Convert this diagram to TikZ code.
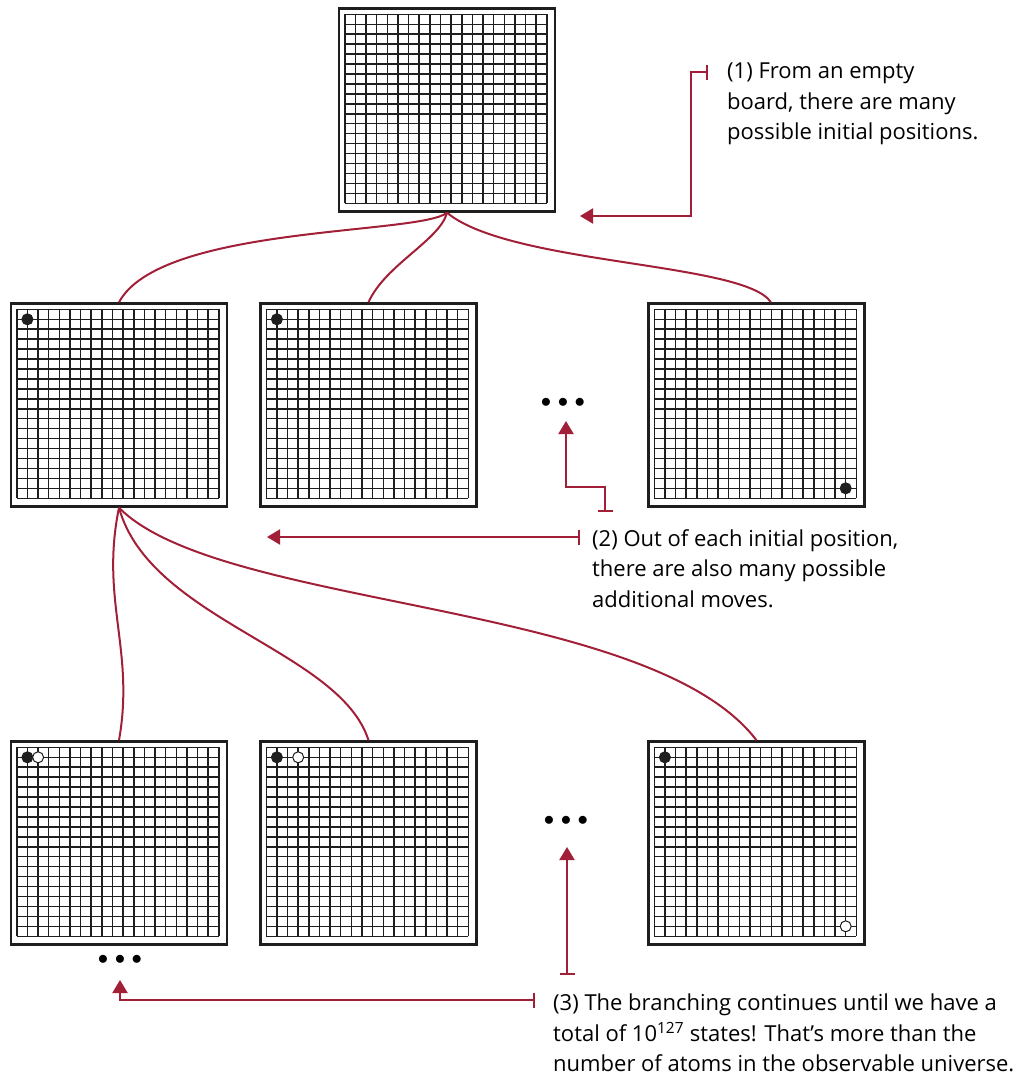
\documentclass[tikz,border=0pt]{standalone}
\usepackage{fontspec}
\setmainfont{Open Sans}
\usetikzlibrary{calc}
\usetikzlibrary{positioning}
\usetikzlibrary{arrows.meta}
\definecolor{notered}{HTML}{A21F38}
\definecolor{ink}{HTML}{1E1E1E}
\def\thickness{2pt}
\tikzset{
board/.style={draw=ink, line width=2.4pt, fill=white, minimum width=216pt, minimum height=203pt, inner sep=0pt},
gridline/.style={ink, line width=1.5pt},
blackstone/.style={circle, draw=ink, fill=ink, line width=1pt, inner sep=0pt, minimum size=11pt},
whitestone/.style={blackstone, fill=white},
branch/.style={notered, line width=\thickness},
callout/.style={notered, line width=\thickness, {Bar[width=15pt]}-{Triangle[width=15pt,length=13pt]}},
note/.style={align=left, anchor=north west, inner sep=0pt, font=\fontsize{22}{30.5}\selectfont},
moredots/.style={inner sep=0pt, font=\fontsize{20}{20}\selectfont},
}
% 19 x 19 cells inside a board node
\newcommand{\boardgrid}[1]{
	\foreach \i in {0,...,19} {
		\draw[gridline] ($(#1.north west)+(7+\i*10.632,7)$) -- ($(#1.north west)+(7+\i*10.632,196)$);
		\draw[gridline] ($(#1.north west)+(7,7+\i*9.947)$) -- ($(#1.north west)+(209,7+\i*9.947)$);
	}
}
\newcommand{\dotrow}{{$\bullet$}\hspace{6.5pt}{$\bullet$}\hspace{6.5pt}{$\bullet$}}

\begin{document}
\begin{tikzpicture}[x=1pt, y=-1pt]
\useasboundingbox (0,0) rectangle (1030,1077);

%
\node[board] (top) at (447,110) {};

\node[board] (m1) at (119,405) {};
\node[board] (m2) at (368.5,405) {};
\node[board] (m3) at (756.5,405) {};

\node[board] (b1) at (119,843) {};
\node[board] (b2) at (368.5,843) {};
\node[board] (b3) at (756.5,843) {};

\foreach \b in {top,m1,m2,m3,b1,b2,b3} {\boardgrid{\b}}

%
\node[blackstone] (m1s1) at ($(m1.north west)+(17.6,17)$) {};
\node[blackstone] (m2s1) at ($(m2.north west)+(17.6,17)$) {};
\node[blackstone] (m3s1) at ($(m3.north west)+(198.4,186)$) {};
\node[blackstone] (b1s1) at ($(b1.north west)+(17.6,17)$) {};
\node[whitestone] (b1s2) at ($(b1.north west)+(28.3,17)$) {};
\node[blackstone] (b2s1) at ($(b2.north west)+(17.6,17)$) {};
\node[whitestone] (b2s2) at ($(b2.north west)+(38.9,17)$) {};
\node[blackstone] (b3s1) at ($(b3.north west)+(17.6,17)$) {};
\node[whitestone] (b3s2) at ($(b3.north west)+(198.4,186)$) {};

%
\node[moredots] (dotsm) at (563,403) {\dotrow};
\node[moredots] (dotsb) at (566,821) {\dotrow};
\node[moredots] (dotsl) at (120,960) {\dotrow};

%
\draw[branch] (top.south) .. controls (420,235) and (160,225) .. (m1.north);
\draw[branch] (top.south) .. controls (440,240) and (385,265) .. (m2.north);
\draw[branch] (top.south) .. controls (510,265) and (745,262) .. (m3.82);

\draw[branch] (m1.south) .. controls (100,600) and (135,650) .. (b1.north);
\draw[branch] (m1.south) .. controls (150,620) and (340,650) .. (b2.north);
\draw[branch] (m1.south) .. controls (220,610) and (650,600) .. (b3.north);

%
\node[note] (note1) at (727,63) {(1) From an empty\\board, there are many\\possible initial positions.};
\node[note] (note2) at (592,529) {(2) Out of each initial position,\\there are also many possible\\additional moves.};
\node[note] (note3) at (553,994) {(3) The branching continues until we have a\\total of 10\textsuperscript{127} states! That’s more than the\\number of atoms in the observable universe.};

\coordinate (tip1) at (580,216);
\coordinate (tip2) at (267,537);
\coordinate (tip2b) at (566,421);
\coordinate (tip3) at (567,847);
\coordinate (tip3b) at (120,980);

%
\draw[callout] ($(note1.north west)+(-19,9)$) -- ++(-17,0) |- (tip1);
\draw[callout] ($(note2.north west)+(-12,8)$) -- (tip2);
\draw[callout] ($(note2.north west)+(13,-17)$) -- ++(0,-25) -| (tip2b);
\draw[callout] ($(note3.north west)+(14,-19)$) -- (tip3);
\draw[callout] ($(note3.north west)+(-18,6)$) -| (tip3b);
\end{tikzpicture}
\end{document}
